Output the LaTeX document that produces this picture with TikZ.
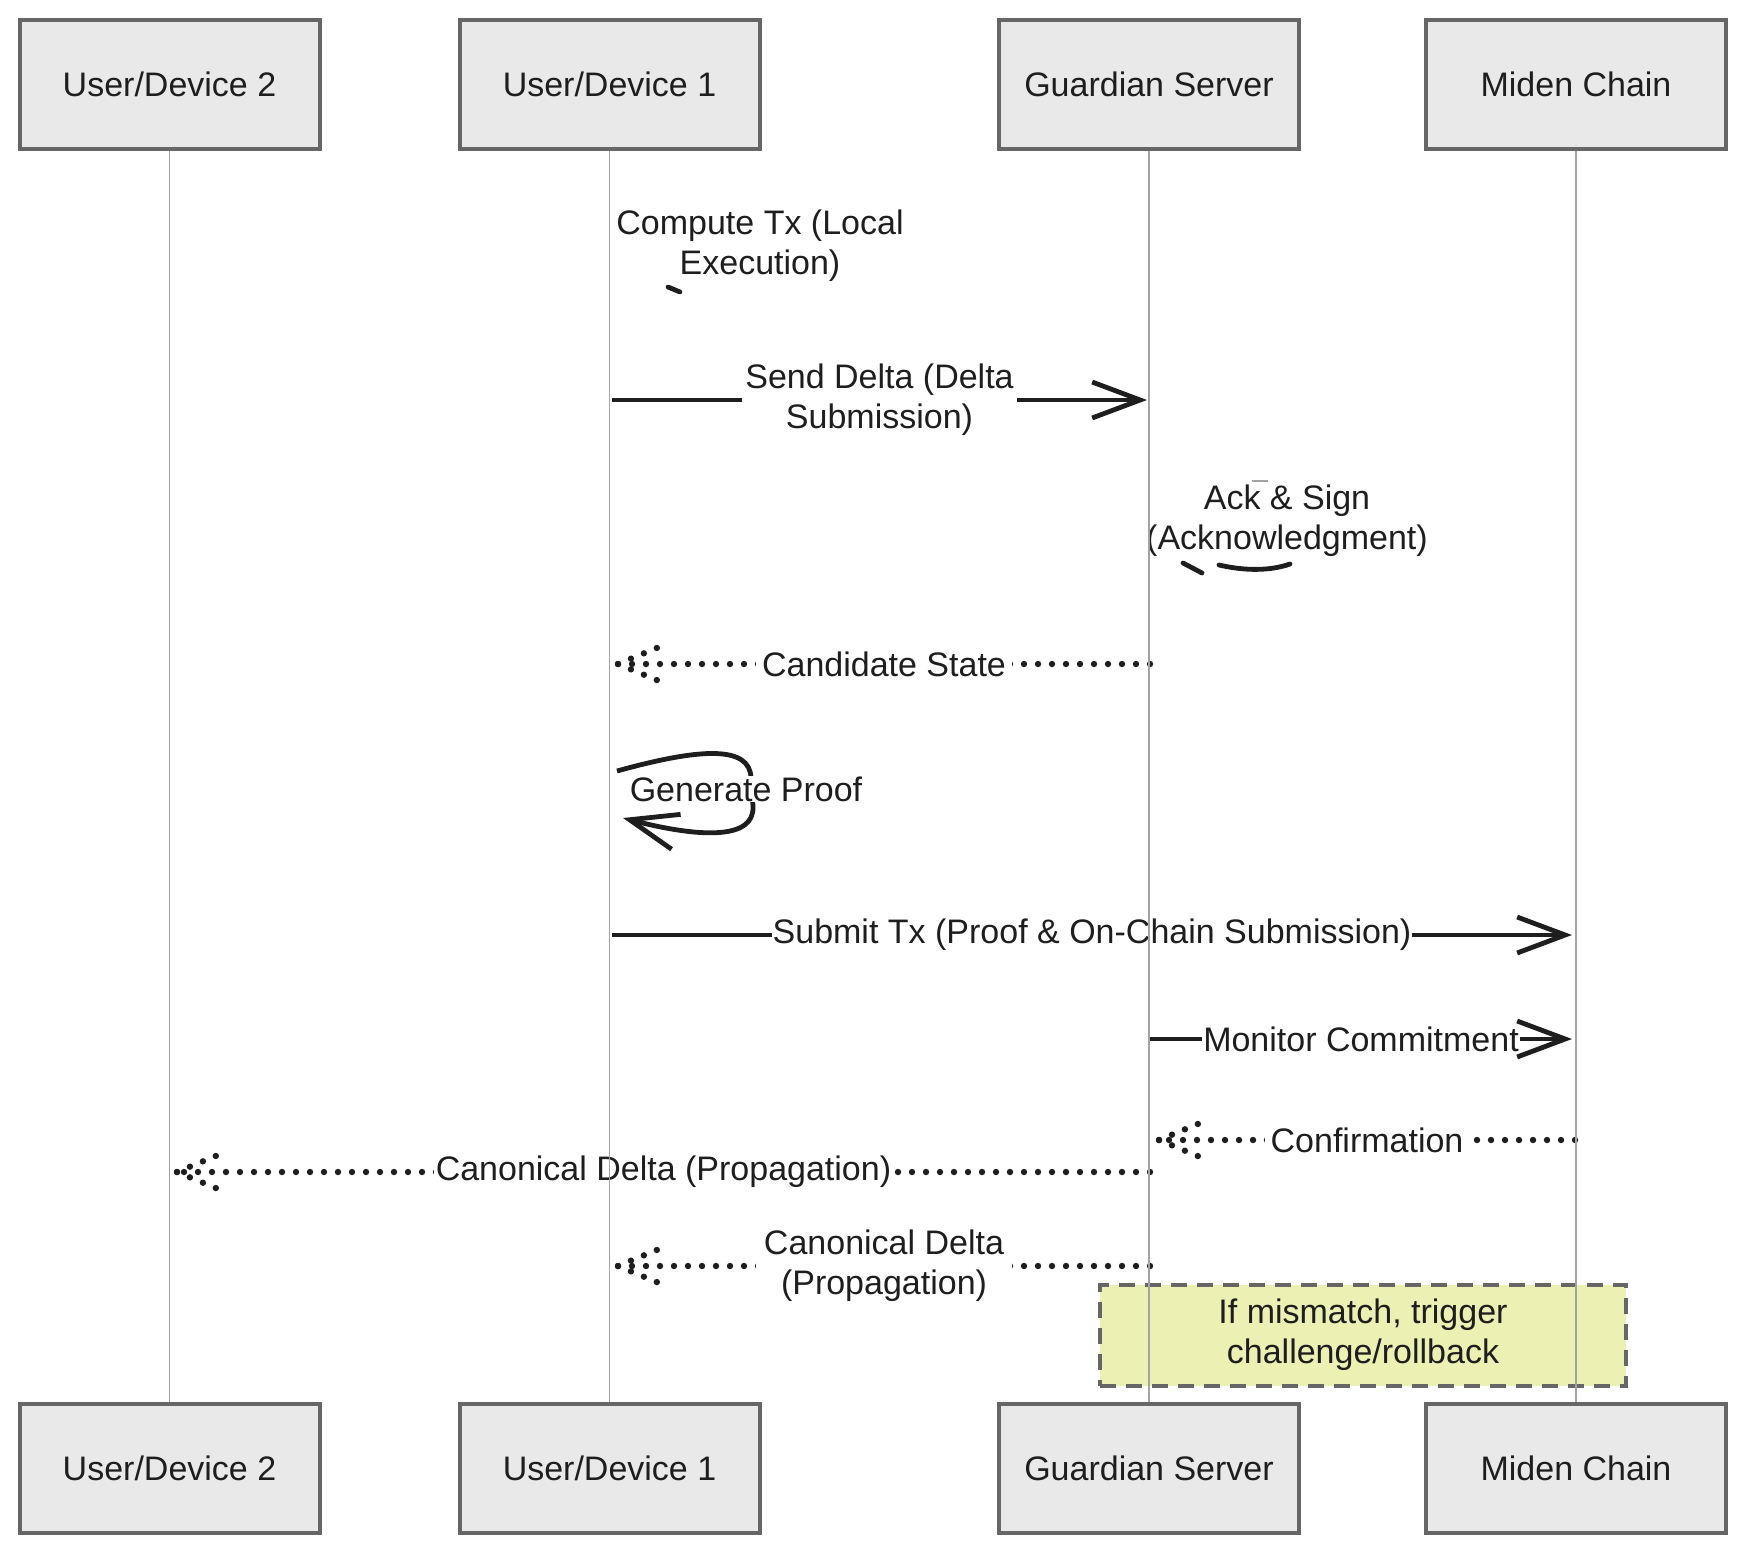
\documentclass[tikz,border=0pt]{standalone}
\usepackage{fontspec}
\setmainfont{Liberation Sans}
\usetikzlibrary{arrows.meta}
\definecolor{ink}{HTML}{1E1E1E}
\definecolor{boxfill}{HTML}{E9E9E9}
\definecolor{boxline}{HTML}{666666}
\definecolor{lifec}{HTML}{A3A3A3}
\definecolor{notefill}{HTML}{ECF0B3}
\begin{document}
\begin{tikzpicture}[x=0.5pt,y=-0.5pt,
  font=\fontsize{17}{20}\selectfont,
  actor/.style={draw=boxline, line width=2pt, fill=boxfill, minimum width=150pt, minimum height=64.5pt, text=ink, inner sep=0pt},
  life/.style={draw=lifec, line width=0.8pt},
  msg/.style={draw=ink, line width=2.4pt, -{Straight Barb[length=24pt,width=18pt,line width=2.4pt]}},
  reply/.style={draw=ink, line width=3.2pt, line cap=round, dash pattern=on 0pt off 7pt},
  lbl/.style={fill=white, inner sep=1.5pt, text=ink, align=center},
  freetxt/.style={text=ink, align=center, inner sep=0pt},
  penstroke/.style={draw=ink, line width=2.4pt, line cap=round},
  notebox/.style={draw=boxline, line width=2pt, dash pattern=on 8pt off 5pt, fill=notefill, minimum width=263pt, minimum height=50.5pt, text=ink, align=center}
]
\path[use as bounding box] (0,0) rectangle (1745,1554);

% actors
\node[actor] (ud2t) at (169.5,84.5) {User/Device 2};
\node[actor] (ud1t) at (609.5,84.5) {User/Device 1};
\node[actor] (gst)  at (1149,84.5) {Guardian Server};
\node[actor] (mct)  at (1576,84.5) {Miden Chain};
\node[actor] (ud2b) at (169.5,1468.5) {User/Device 2};
\node[actor] (ud1b) at (609.5,1468.5) {User/Device 1};
\node[actor] (gsb)  at (1149,1468.5) {Guardian Server};
\node[actor] (mcb)  at (1576,1468.5) {Miden Chain};

% note
\node[notebox] (nt) at (1363,1335) {If mismatch, trigger\\challenge/rollback};

% message anchor points
\coordinate (sdA) at (612,400);  \coordinate (sdB) at (1147,400);
\coordinate (csA) at (1150,664); \coordinate (csB) at (618,664);
\coordinate (stA) at (612,935);  \coordinate (stB) at (1572,935);
\coordinate (mcA) at (1150,1039); \coordinate (mcB) at (1572,1039);
\coordinate (cfA) at (1575,1140); \coordinate (cfB) at (1159,1140);
\coordinate (cdA) at (1150,1172); \coordinate (cdB) at (177,1172);
\coordinate (c2A) at (1150,1266); \coordinate (c2B) at (618,1266);

% 1 Compute Tx (self)
\node[freetxt] (ctx) at (760,246) {Compute Tx (Local\\Execution)};
\coordinate (ctk1) at (668,287); \coordinate (ctk2) at (680,292);
\draw[penstroke] (ctk1) -- (ctk2);

% 2 Send Delta
\draw[msg] (sdA) -- node[lbl] {Send Delta (Delta\\Submission)} (sdB);

% 3 Ack & Sign (self)
\node[freetxt] (ack) at (1287,521) {Ack \& Sign\\(Acknowledgment)};
\coordinate (ak1) at (1183,563); \coordinate (ak2) at (1202,573);
\coordinate (ak3) at (1219,565); \coordinate (ak4) at (1290,564);
\draw[penstroke] (ak1) -- (ak2);
\draw[penstroke] (ak3) .. controls (1245,571) and (1270,571) .. (ak4);
\coordinate (ak5) at (1252,481); \coordinate (ak6) at (1268,481);
\draw[draw=lifec, line width=0.8pt] (ak5) -- (ak6);

% 4 Candidate State
\draw[reply] (csA) -- node[lbl, inner sep=3pt] {Candidate State} (csB);
\draw[reply] (csB) -- ++(46,-19);
\draw[reply] (csB) -- ++(46,19);

% 5 Generate Proof (self loop)
\coordinate (gpA) at (617,771); \coordinate (gpB) at (623,818);
\draw[msg] (gpA) .. controls (700,748) and (750,745) .. (751,778) -- (753,806)
  .. controls (755,840) and (700,838) .. (gpB);
\node[lbl, inner sep=0.5pt] (gpl) at (746,789) {Generate Proof};

% 6 Submit Tx
\draw[msg] (stA) -- node[lbl, inner sep=0.5pt] {Submit Tx (Proof \& On-Chain Submission)} (stB);

% 7 Monitor Commitment
\draw[msg] (mcA) -- node[lbl, inner sep=0.5pt] {Monitor Commitment} (mcB);

% 8 Confirmation
\draw[reply] (cfA) -- node[lbl, inner sep=3pt] {Confirmation} (cfB);
\draw[reply] (cfB) -- ++(46,-19);
\draw[reply] (cfB) -- ++(46,19);

% 9 Canonical Delta -> Device 2
\draw[reply] (cdA) -- node[lbl, inner sep=1pt] {Canonical Delta (Propagation)} (cdB);
\draw[reply] (cdB) -- ++(46,-19);
\draw[reply] (cdB) -- ++(46,19);

% 10 Canonical Delta -> Device 1
\draw[reply] (c2A) -- node[lbl, inner sep=4pt] {Canonical Delta\\(Propagation)} (c2B);
\draw[reply] (c2B) -- ++(46,-19);
\draw[reply] (c2B) -- ++(46,19);

% lifelines on top
\draw[life] (ud2t.south) -- (ud2b.north);
\draw[life] (ud1t.south) -- (ud1b.north);
\draw[life] (gst.south) -- (gsb.north);
\draw[life] (mct.south) -- (mcb.north);
\end{tikzpicture}
\end{document}
